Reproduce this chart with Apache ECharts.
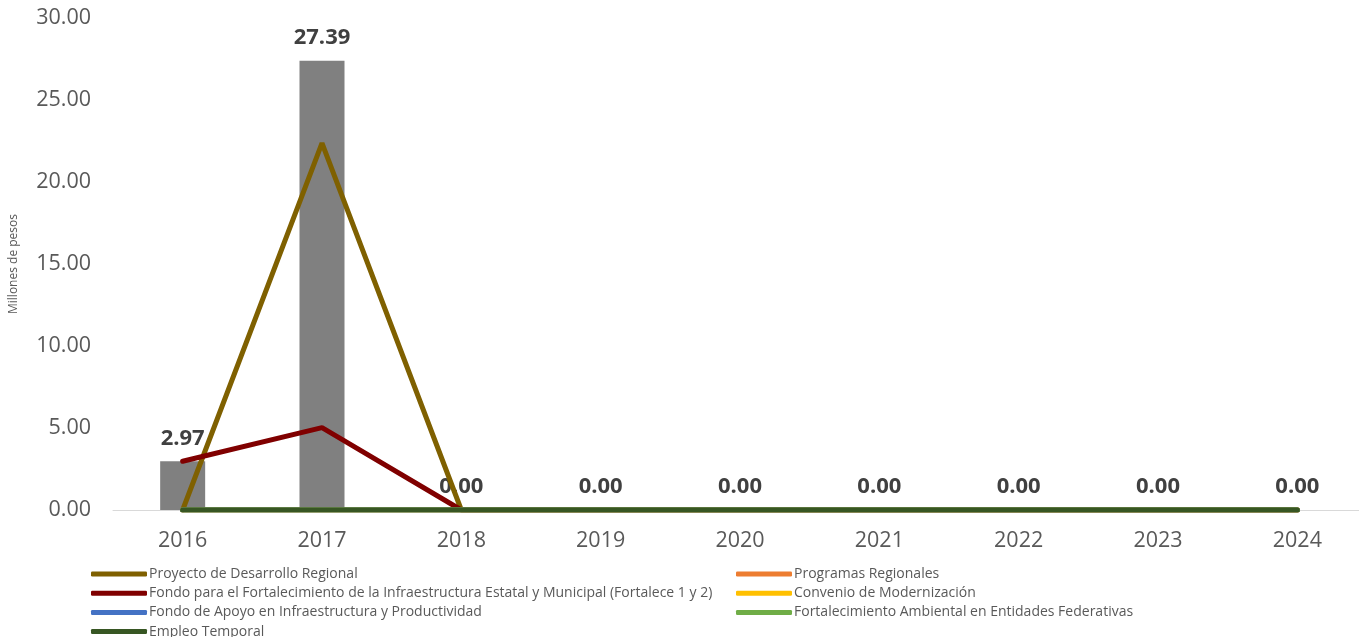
<!DOCTYPE html>
<html><head><meta charset="utf-8">
<script src="https://cdn.jsdelivr.net/npm/echarts@6/dist/echarts.min.js"></script>
<style>html,body{margin:0;padding:0;background:#fff;overflow:hidden}#c{width:1372px;height:637px}</style>
</head><body><div id="c"></div>
<script>
const years = ['2016','2017','2018','2019','2020','2021','2022','2023','2024'];
const totals = [2.97, 27.39, 0, 0, 0, 0, 0, 0, 0];
const proyectoDesarrollo = [0, 22.37, 0, 0, 0, 0, 0, 0, 0];
const programasRegionales = [0, 0, 0, 0, 0, 0, 0, 0, 0];
const fortalece = [2.97, 5.02, 0, 0, 0, 0, 0, 0, 0];
const convenioModernizacion = [0, 0, 0, 0, 0, 0, 0, 0, 0];
const fondoApoyo = [0, 0, 0, 0, 0, 0, 0, 0, 0];
const fortalecimientoAmbiental = [0, 0, 0, 0, 0, 0, 0, 0, 0];
const empleoTemporal = [0, 0, 0, 0, 0, 0, 0, 0, 0];

const names = ['Proyecto de Desarrollo Regional','Programas Regionales',
 'Fondo para el Fortalecimiento de la Infraestructura Estatal y Municipal (Fortalece 1 y 2)',
 'Convenio de Modernización','Fondo de Apoyo en Infraestructura y Productividad',
 'Fortalecimiento Ambiental en Entidades Federativas','Empleo Temporal'];
const datas = [proyectoDesarrollo, programasRegionales, fortalece, convenioModernizacion, fondoApoyo, fortalecimientoAmbiental, empleoTemporal];
const colors = ['#7F6000','#ED7D31','#800000','#FFC000','#4472C4','#70AD47','#375623'];
const FONT = '"Open Sans", sans-serif';

const lineSeries = names.map((n,i)=>({
  name:n, type:'line', data:datas[i], symbol:'none',
  lineStyle:{width:5,color:colors[i],cap:'round'}, itemStyle:{color:colors[i]}, z:3+i
}));

const legendCommon = {orient:'vertical', itemWidth:56, itemHeight:5, itemGap:5.2, padding:0,
  icon:'roundRect', textStyle:{fontFamily:FONT,fontSize:14,lineHeight:13,color:'#595959',padding:[0,0,0,-3]}};

const chart = echarts.init(document.getElementById('c'));
chart.setOption({
  animation:false,
  grid:{left:112,right:5,top:18,bottom:127,containLabel:false},
  legend:[
    Object.assign({left:91,top:567,height:75,data:[names[0],names[2],names[4],names[6]]},legendCommon),
    Object.assign({left:736,top:567,height:75,data:[names[1],names[3],names[5]]},legendCommon)
  ],
  xAxis:{type:'category',data:years,
    axisLine:{lineStyle:{color:'#D9D9D9',width:1}},axisTick:{show:false},
    axisLabel:{fontFamily:FONT,fontSize:21.5,color:'#595959',margin:20}},
  yAxis:{type:'value',min:0,max:30,interval:5,
    name:'Millones de pesos',nameLocation:'middle',nameGap:93,nameRotate:90,
    nameTextStyle:{fontFamily:FONT,fontSize:12,color:'#595959'},
    splitLine:{show:false},axisLine:{show:false},axisTick:{show:false},
    axisLabel:{fontFamily:FONT,fontSize:21.5,color:'#595959',margin:22,formatter:v=>v.toFixed(2)}},
  series:[{
    name:'Total',type:'bar',data:totals,barWidth:45,itemStyle:{color:'#808080'},z:2,
    label:{show:true,position:'top',distance:12,fontFamily:FONT,fontSize:22,fontWeight:'bold',color:'#404040',
      formatter:p=>p.value.toFixed(2)}
  }].concat(lineSeries)
});
</script></body></html>
